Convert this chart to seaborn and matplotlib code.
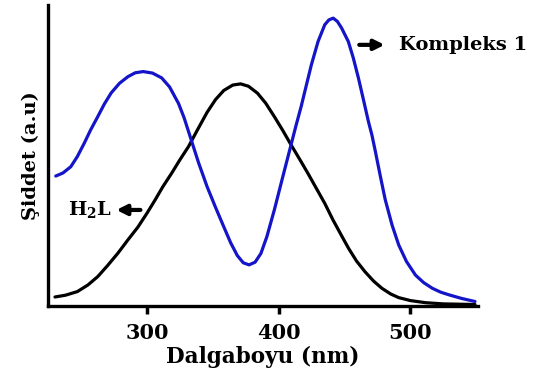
import matplotlib
matplotlib.use("Agg")
import matplotlib.pyplot as plt
import seaborn as sns
import pandas as pd

# Data (wavelength nm, intensity a.u.)
h2l_x = [230, 238, 247, 255, 262.5, 270, 277.8, 285, 293, 300, 306, 312, 318.7,
         325, 331.4, 338, 345.5, 352, 358.2, 365, 371, 377, 383.8, 390, 396.6,
         403, 409.3, 415.7, 422.1, 428.5, 434.9, 441, 447.7, 453, 459, 465.5,
         472, 478.3, 485, 491, 500, 511.5, 525, 549]
h2l_y = [3.0, 3.6, 4.8, 7.0, 9.8, 13.5, 17.6, 21.8, 26.3, 31.0, 35.3, 39.8, 44.3,
         48.8, 53.1, 58.5, 64.5, 68.8, 71.8, 73.6, 74.0, 73.2, 70.9, 67.6, 63.1,
         58.5, 53.7, 49.0, 44.2, 39.2, 34.2, 28.8, 23.4, 19.2, 15.0, 11.4,
         8.3, 5.9, 4.0, 2.8, 1.8, 1.1, 0.7, 0.5]

komp_x = [230.6, 236, 242, 247, 252.3, 257, 262.5, 267.5, 272.7, 279, 285.4, 291,
          297, 304, 311, 317, 323.8, 328, 332.7, 339, 345.5, 352, 358.2, 363.5,
          368.5, 373, 377.4, 382, 386.4, 391, 396.6, 403, 409.3, 413, 417, 419.5,
          424.7, 429.8, 434.9, 438, 441.3, 444.5, 447.7, 452.8, 456.6, 460.5,
          464.3, 468.1, 470.7, 473.2, 477, 480.8, 486, 491.1, 497, 503.8, 510,
          516.6, 523, 529.4, 539, 549]
komp_y = [43.3, 44.3, 46.4, 49.8, 54.3, 58.6, 63.1, 67.3, 71.0, 74.2, 76.4, 77.7,
          78.1, 77.6, 76.0, 73.0, 67.5, 62.8, 56.4, 47.8, 39.8, 32.8, 26.4, 21.0,
          16.8, 14.4, 13.7, 14.6, 17.5, 23.2, 32.0, 43.0, 53.7, 60.0, 66.5, 71.0,
          80.3, 88.1, 93.7, 95.3, 95.9, 94.8, 92.6, 88.1, 82.6, 75.9,
          68.7, 61.4, 57.0, 51.8, 43.5, 35.5, 27.0, 20.3, 14.8, 10.3, 7.8,
          5.9, 4.6, 3.7, 2.5, 1.5]

xticks = [300, 400, 500]
xlabel = "Dalgaboyu (nm)"
ylabel = "Şiddet (a.u)"
label_komp = "Kompleks 1"
label_h2l = r"$\mathbf{H_2L}$"

df = pd.concat([
    pd.DataFrame({"x": h2l_x, "y": h2l_y, "s": "H2L"}),
    pd.DataFrame({"x": komp_x, "y": komp_y, "s": "Kompleks 1"}),
])

sns.set_theme(style="white")
plt.rcParams["font.family"] = ["DejaVu Serif"]
plt.rcParams["mathtext.fontset"] = "dejavuserif"
plt.rcParams["text.color"] = "black"
plt.rcParams["axes.labelcolor"] = "black"
plt.rcParams["xtick.color"] = "black"

fig = plt.figure(figsize=(5.37, 3.85), dpi=100)
ax = fig.add_axes([0.0894, 0.2052, 0.8, 0.782])

sns.lineplot(data=df, x="x", y="y", hue="s",
             palette={"H2L": "#000000", "Kompleks 1": "#1414c8"},
             linewidth=2.3, legend=False, ax=ax, sort=False)
for line in ax.lines:
    line.set_solid_joinstyle("round")
    line.set_solid_capstyle("round")

ax.set_xlim(224.7, 551)
ax.set_ylim(0, 100.3)
ax.set_xticks(xticks)
ax.set_xticklabels([str(t) for t in xticks], fontsize=15, fontweight="bold")
ax.set_yticks([])
ax.tick_params(axis="x", direction="out", length=6, width=2.5, pad=6,
               bottom=True, color="black", labelcolor="black")
for side in ["top", "right"]:
    ax.spines[side].set_visible(False)
for side in ["left", "bottom"]:
    ax.spines[side].set_linewidth(2.4)
    ax.spines[side].set_color("black")

ax.set_xlabel(xlabel, fontsize=15.5, fontweight="bold", labelpad=2, color="black")
ax.set_ylabel(ylabel, fontsize=14, fontweight="bold", labelpad=6, color="black")

# Annotations
ax.annotate("", xy=(482.5, 87.0), xytext=(459.0, 87.0),
            arrowprops=dict(arrowstyle="-|>,head_length=0.5,head_width=0.25",
                            lw=3, color="black"), annotation_clip=False)
ax.text(491.0, 87.0, label_komp, fontsize=14, fontweight="bold",
        ha="left", va="center", clip_on=False, color="black")

ax.annotate("", xy=(274.5, 32.0), xytext=(297.0, 32.0),
            arrowprops=dict(arrowstyle="-|>,head_length=0.5,head_width=0.25",
                            lw=3, color="black"))
ax.text(273.5, 32.0, label_h2l, fontsize=14, ha="right", va="center",
        color="black")

fig.savefig("out.png", dpi=100)
